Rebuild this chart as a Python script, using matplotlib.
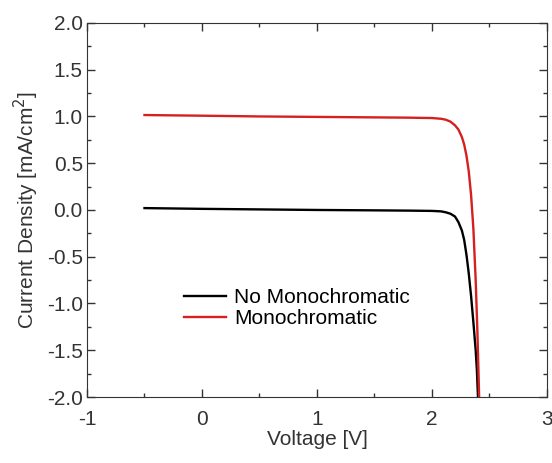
import matplotlib.pyplot as plt
import numpy as np
from matplotlib.ticker import MultipleLocator

plt.rcParams['font.family'] = ['Liberation Sans', 'DejaVu Sans']
plt.rcParams['axes.unicode_minus'] = False

# Data
v_dark = [-0.5, 0.0, 0.5, 1.0, 1.5, 1.8, 2.0, 2.08, 2.12, 2.16, 2.2, 2.23,
          2.26, 2.28, 2.30, 2.32, 2.34, 2.36, 2.38, 2.39, 2.40]
j_dark = [0.02, 0.012, 0.006, 0.0, -0.004, -0.007, -0.01, -0.015, -0.025,
          -0.04, -0.07, -0.13, -0.22, -0.32, -0.48, -0.68, -0.92, -1.2,
          -1.5, -1.7, -2.0]

v_mono = [-0.5, 0.0, 0.5, 1.0, 1.5, 1.8, 2.0, 2.08, 2.12, 2.16, 2.2, 2.23,
          2.26, 2.28, 2.30, 2.32, 2.34, 2.36, 2.38, 2.395, 2.41]
j_mono = [1.015, 1.008, 1.0, 0.995, 0.99, 0.987, 0.983, 0.975, 0.965, 0.945,
          0.905, 0.86, 0.78, 0.70, 0.58, 0.41, 0.16, -0.2, -0.75, -1.3, -2.0]

fig = plt.figure(figsize=(5.52, 4.63), dpi=100)
ax = fig.add_axes([0.1576, 0.1425, 0.8333, 0.808])

ax.plot(v_dark, j_dark, color='black', lw=1.7, label='No Monochromatic')
ax.plot(v_mono, j_mono, color='#d42020', lw=1.7, label='Monochromatic')

ax.set_xlim(-1, 3)
ax.set_ylim(-2, 2)
ax.xaxis.set_major_locator(MultipleLocator(1))
ax.xaxis.set_minor_locator(MultipleLocator(0.5))
ax.yaxis.set_minor_locator(MultipleLocator(0.25))
ax.set_yticks(np.arange(-2, 2.01, 0.5))
ax.set_yticklabels([f'{t:.1f}' for t in np.arange(-2, 2.01, 0.5)])
ax.tick_params(which='both', direction='in', top=True, right=True,
               labelsize=15, colors='#333333', width=1)
ax.tick_params(axis='y', pad=3)
ax.tick_params(axis='x', pad=9)
ax.tick_params(which='major', length=6)
ax.tick_params(which='minor', length=3)
for s in ax.spines.values():
    s.set_color('#333333')

ax.set_xlabel('Voltage [V]', fontsize=15, color='#333333', labelpad=1)
ax.set_ylabel('Current Density [mA/cm$^2$]', fontsize=15, color='#333333')

ax.legend(loc='upper left', bbox_to_anchor=(0.17, 0.341), frameon=False,
          fontsize=15, handlelength=2.0, handletextpad=0.4, labelspacing=0.1)

fig.savefig('out.png', dpi=100)
